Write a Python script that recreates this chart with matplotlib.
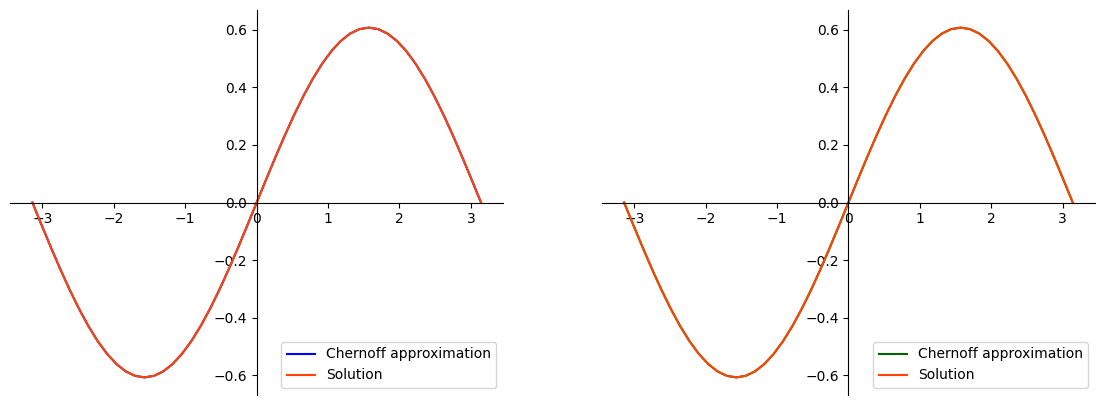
import numpy as np
from matplotlib import pyplot as plt

# x grid (from -pi to pi) and curve values
x = np.linspace(-np.pi, np.pi, 49)
half = [0.0, 0.0792, 0.1571, 0.2323, 0.3035, 0.3695, 0.4292, 0.4816, 0.5257,
        0.5608, 0.5863, 0.6018, 0.607, 0.6018, 0.5863, 0.5608, 0.5257, 0.4816,
        0.4292, 0.3695, 0.3035, 0.2323, 0.1571, 0.0792, 0.0]
solution = [-v for v in half[:-1]] + half
chernoff_left = list(solution)
chernoff_right = list(solution)

fig = plt.figure(figsize=(11.04, 4.05), dpi=100)
ax1 = fig.add_axes([0.009, 0.025, 0.447, 0.95])
ax2 = fig.add_axes([0.545, 0.025, 0.447, 0.95])

for ax, cher, col in [(ax1, chernoff_left, "blue"), (ax2, chernoff_right, "darkgreen")]:
    ax.plot(x, cher, color=col, label="Chernoff approximation")
    ax.plot(x, solution, color="orangered", label="Solution")
    ax.spines["left"].set_position("zero")
    ax.spines["bottom"].set_position("zero")
    ax.spines["right"].set_visible(False)
    ax.spines["top"].set_visible(False)
    ax.legend(loc="lower right")

fig.savefig("out.png")
